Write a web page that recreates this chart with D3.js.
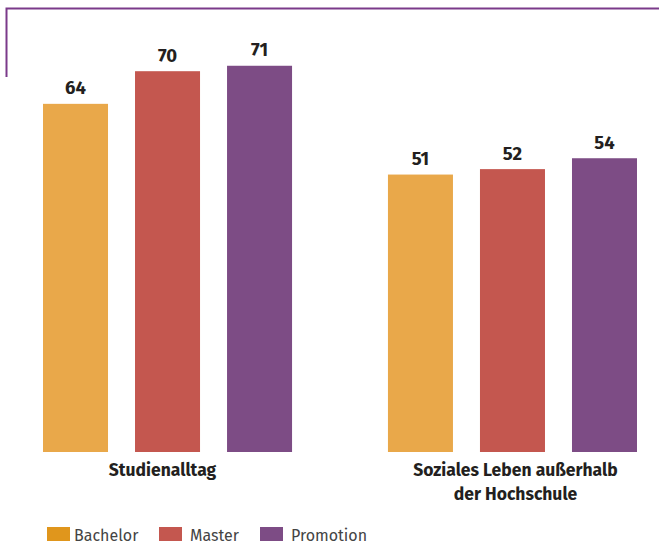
<!DOCTYPE html>
<html>
<head>
<meta charset="utf-8">
<script src="https://cdn.jsdelivr.net/npm/d3@7"></script>
<style>
  body { margin: 0; background: #fff; }
  svg { display: block; font-family: "Fira Sans", "Open Sans", sans-serif; }
</style>
</head>
<body>
<div id="chart"></div>
<script>
// data
const categories = [["Studienalltag"], ["Soziales Leben außerhalb", "der Hochschule"]];
const seriesNames = ["Bachelor", "Master", "Promotion"];
const bachelor = [64, 51];
const master = [70, 52];
const promotion = [71, 54];

const barColours = ["#E9A84A", "#C4574F", "#7D4C85"];
const legendColours = ["#E0961C", "#C4574F", "#7D4C85"];

const width = 659, height = 543;
const baseY = 452;

const svg = d3.select("#chart").append("svg")
  .attr("width", width)
  .attr("height", height);

// frame line top-left
svg.append("path")
  .attr("d", "M6.5,77 V8.5 H" + width)
  .attr("fill", "none")
  .attr("stroke", "#7B3A8A")
  .attr("stroke-width", 2);

const catKeys = categories.map(d => d.join(" "));
const x0 = d3.scaleBand().domain(catKeys).range([43, 637]).paddingInner(0.278).paddingOuter(0);
const x1 = d3.scaleBand().domain(seriesNames).range([0, x0.bandwidth()]).paddingInner(0.2935).paddingOuter(0);
const y = d3.scaleLinear().domain([0, 80]).range([baseY, baseY - 80 * 5.44]);

const labelShift = [-5, 3];

const table = catKeys.map((c, i) => ({
  cat: c,
  idx: i,
  lines: categories[i],
  values: [bachelor[i], master[i], promotion[i]]
}));

const groups = svg.selectAll(".grp")
  .data(table)
  .enter().append("g")
  .attr("class", "grp")
  .attr("transform", d => `translate(${x0(d.cat)},0)`);

groups.selectAll("rect")
  .data(d => d.values.map((v, j) => ({ s: seriesNames[j], v: v, j: j })))
  .enter().append("rect")
  .attr("x", d => x1(d.s))
  .attr("y", d => y(d.v))
  .attr("width", x1.bandwidth())
  .attr("height", d => y(0) - y(d.v))
  .attr("fill", d => barColours[d.j]);

groups.selectAll(".val")
  .data(d => d.values.map((v, j) => ({ s: seriesNames[j], v: v })))
  .enter().append("text")
  .attr("class", "val")
  .attr("x", d => x1(d.s) + x1.bandwidth() / 2)
  .attr("y", d => y(d.v) - 9.5)
  .attr("text-anchor", "middle")
  .attr("font-size", "18.5px")
  .attr("font-weight", "bold")
  .attr("fill", "#231F20")
  .text(d => d.v);

// category labels
groups.append("text")
  .attr("text-anchor", "middle")
  .attr("font-size", "17.5px")
  .attr("font-weight", "bold")
  .attr("fill", "#231F20")
  .selectAll("tspan")
  .data(d => d.lines.map(l => ({ l: l, shift: labelShift[d.idx] })))
  .enter().append("tspan")
  .attr("x", d => x0.bandwidth() / 2 + d.shift)
  .attr("y", (d, i) => 476 + i * 24)
  .text(d => d.l);

// legend
const legendX = [47, 159, 260];
const legendTextX = [27, 31, 31];
const legend = svg.append("g").attr("class", "legend");
const items = legend.selectAll("g")
  .data(seriesNames)
  .enter().append("g")
  .attr("transform", (d, i) => `translate(${legendX[i]},527)`);
items.append("rect")
  .attr("width", 23)
  .attr("height", 14)
  .attr("fill", (d, i) => legendColours[i]);
items.append("text")
  .attr("x", (d, i) => legendTextX[i])
  .attr("y", 13.5)
  .attr("font-size", "16px")
  .attr("fill", "#444")
  .text(d => d);
</script>
</body>
</html>
